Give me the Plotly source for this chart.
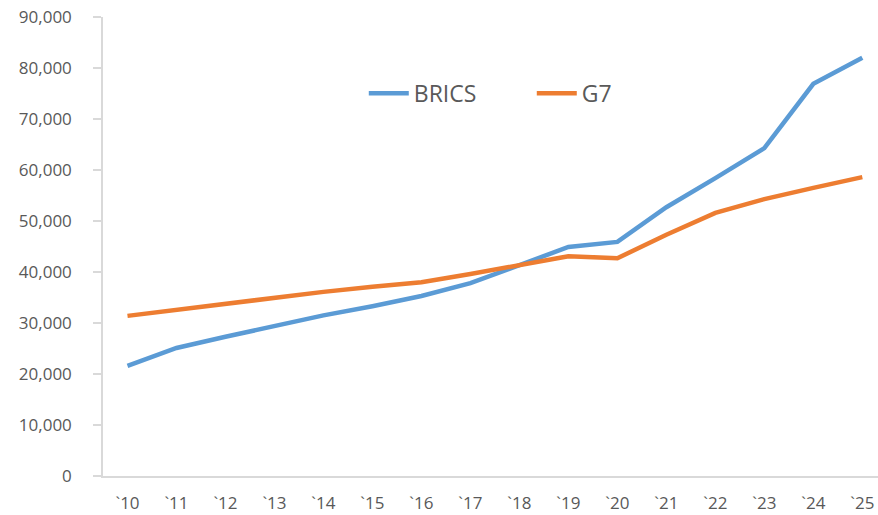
import plotly.graph_objects as go

years = ["`10", "`11", "`12", "`13", "`14", "`15", "`16", "`17", "`18", "`19", "`20", "`21", "`22", "`23", "`24", "`25"]
brics = [21600, 25100, 27300, 29400, 31500, 33300, 35300, 37800, 41400, 44900, 45900, 52700, 58400, 64300, 76900, 82000]
g7 = [31400, 32600, 33700, 34900, 36100, 37100, 38000, 39600, 41400, 43100, 42700, 47300, 51600, 54300, 56500, 58600]
yticks = [0, 10000, 20000, 30000, 40000, 50000, 60000, 70000, 80000, 90000]

idx = list(range(len(years)))
fig = go.Figure()
fig.add_trace(go.Scatter(x=idx, y=brics, name="BRICS", mode="lines",
                         line=dict(color="#5B9BD5", width=4.5)))
fig.add_trace(go.Scatter(x=idx, y=g7, name="G7", mode="lines",
                         line=dict(color="#ED7D31", width=4.5)))

fig.update_layout(
    width=878, height=515,
    margin=dict(l=103, r=0, t=17, b=39, autoexpand=False),
    paper_bgcolor="white", plot_bgcolor="white",
    font=dict(family="Open Sans", color="#595959", size=17),
    showlegend=True,
    legend=dict(orientation="h", x=0.3365, y=0.834, xanchor="left", yanchor="middle",
                font=dict(size=23, color="#595959"), bgcolor="rgba(0,0,0,0)",
                entrywidth=113, itemwidth=40),
)
fig.update_xaxes(
    tickmode="array", tickvals=idx, ticktext=years,
    range=[-0.5, 15.32], showgrid=False, zeroline=False,
    showline=True, linecolor="#D9D9D9", linewidth=1.5,
    ticks="", ticklabelstandoff=11,
    tickfont=dict(size=17, color="#595959"),
)
fig.update_yaxes(
    range=[0, 90000], tickvals=yticks, tickformat=",d",
    showgrid=False, zeroline=False,
    showline=True, linecolor="#D9D9D9", linewidth=1.5,
    ticks="outside", ticklen=8, tickcolor="#D9D9D9", tickwidth=1.5,
    ticklabelstandoff=18,
    tickfont=dict(size=17, color="#595959"),
)

fig.write_html("out.html", config={"displayModeBar": False},
               post_script="document.body.style.margin='0';document.body.style.overflow='hidden';")
